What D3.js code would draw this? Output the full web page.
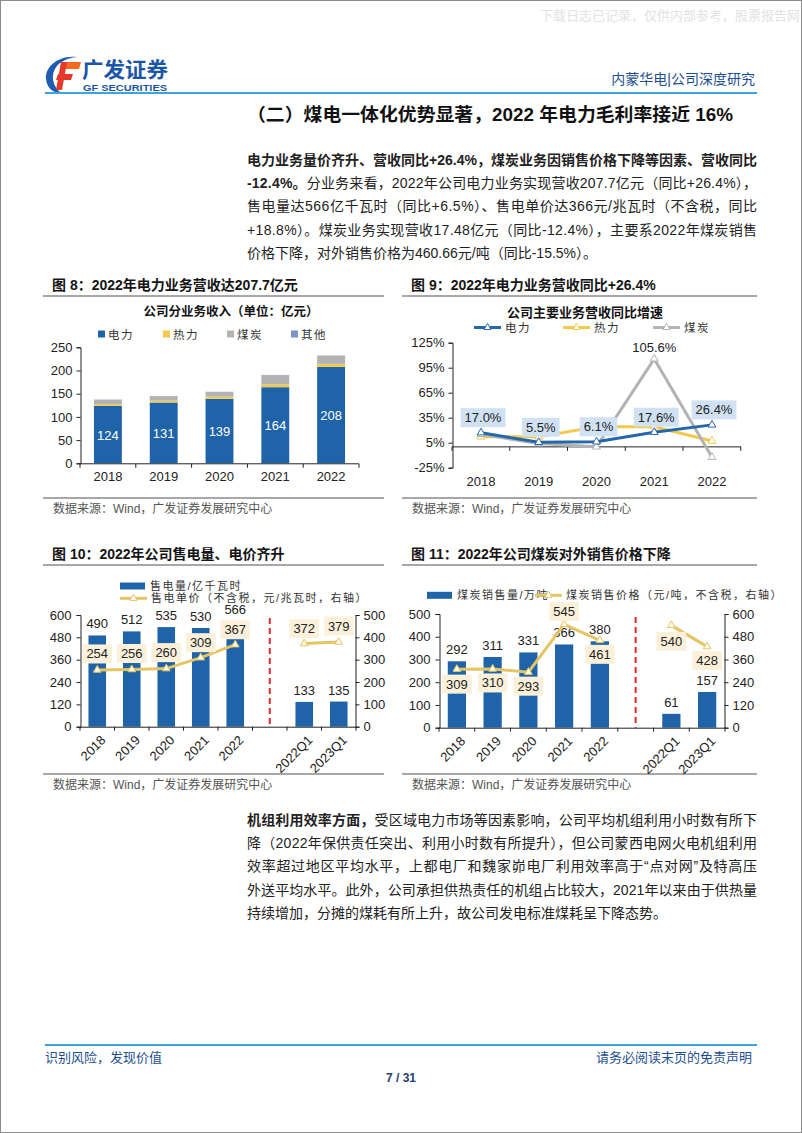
<!DOCTYPE html>
<html>
<head>
<meta charset="utf-8">
<script src="https://cdn.jsdelivr.net/npm/d3@7"></script>
<style>body{margin:0;background:#fff;}</style>
</head>
<body>
<div id="canvas"></div>
<script>
const width = 802;
const height = 1133;
const FONT = "'Liberation Sans','Noto Sans CJK SC',sans-serif";

// ---- data ----
const years = ["2018", "2019", "2020", "2021", "2022"];
const revPower = [124, 131, 139, 164, 207.7];
const revHeat = [3.6, 4.0, 4.9, 6.1, 6.6];
const revCoal = [9.3, 9.7, 9.7, 19.95, 17.48];
const revOther = [0.5, 0.5, 0.5, 0.5, 0.5];
const revTicks = [0, 50, 100, 150, 200, 250];

const yoyPower = [17.0, 5.5, 6.1, 17.6, 26.4];
const yoyHeat = [12, 12, 24, 24, 7];
const yoyCoal = [15, 4, 0, 105.6, -12.4];
const yoyTicks = [-25, 5, 35, 65, 95, 125];

const periods = ["2018", "2019", "2020", "2021", "2022", "", "2022Q1", "2023Q1"];
const elecVolume = [490, 512, 535, 530, 566, null, 133, 135];
const elecPrice = [254, 256, 260, 309, 367, null, 372, 379];
const elecVolTicks = [0, 120, 240, 360, 480, 600];
const elecPriceTicks = [0, 100, 200, 300, 400, 500];

const coalVolume = [292, 311, 331, 366, 380, null, 61, 157];
const coalPrice = [309, 310, 293, 545, 461, null, 540, 428];
const coalVolTicks = [0, 100, 200, 300, 400, 500];
const coalPriceTicks = [0, 120, 240, 360, 480, 600];

// colours
const BLUE = "#1f64a8";
const HEAT = "#f2c94c";
const GRAY = "#b3b3b3";
const OTHER = "#7b94c9";
const GOLD = "#e5c463";
const LABEL_BLUE = "#cfe1f3";
const CREAM = "#fbf1db";
const RED = "#e02a2a";
const NAVY = "#1d4e8f";

const svg = d3.select("#canvas")
    .append("svg")
    .attr("width", width)
    .attr("height", height);

svg.append("rect")
    .attr("x", 0.5).attr("y", 0.5)
    .attr("width", width - 1).attr("height", height - 1)
    .attr("fill", "white")
    .attr("stroke", "#8c8c8c");

function txt(g, x, y, s, o = {}) {
    return g.append("text")
        .attr("x", x).attr("y", y)
        .attr("font-family", FONT)
        .attr("font-size", o.size || 13)
        .attr("font-weight", o.weight || "normal")
        .attr("fill", o.fill || "#222")
        .attr("text-anchor", o.anchor || "start")
        .attr("letter-spacing", o.ls || 0)
        .text(s);
}

// text with a filled box behind it
function boxLabel(g, x, y, s, fill) {
    let box = g.append("rect").attr("fill", fill);
    let t = txt(g, x, y + 4.5, s, {size: 13, anchor: "middle"});
    let w = t.node().getComputedTextLength() + 8;
    box.attr("x", x - w / 2).attr("y", y - 9.5).attr("width", w).attr("height", 19);
}

// ---- page header ----
txt(svg, 800, 20, "下载日志已记录，仅供内部参考，股票报告网", {size: 13, fill: "#e2e2e2", anchor: "end"});

let logo = svg.append("g");
logo.append("path")
    .attr("d", "M77,57 C58,55 45,67 46,79 C47,88 53,93 61,93 C54,87 51,79 54,71 C57,63 66,58 77,57 Z")
    .attr("fill", "#1c5db3");
logo.append("path").attr("d", "M62,62 L81,62 L79,69 L60,69 Z").attr("fill", "#f26a22");
logo.append("path").attr("d", "M58,74 L73,74 L71,80 L56,80 Z").attr("fill", "#e8372a");
logo.append("path").attr("d", "M61,62 L67,62 L62,90 L56,90 Z").attr("fill", "#e63a2a");
txt(logo, 82, 77, "广发证券", {size: 21, weight: "bold", fill: "#1b56a6"})
    .attr("textLength", 86).attr("lengthAdjust", "spacingAndGlyphs");
txt(logo, 83, 90.5, "GF SECURITIES", {size: 9, weight: "bold", fill: "#1b56a6"})
    .attr("textLength", 84).attr("lengthAdjust", "spacingAndGlyphs");

txt(svg, 755, 84, "内蒙华电|公司深度研究", {size: 14, fill: NAVY, anchor: "end"});
svg.append("line")
    .attr("x1", 45).attr("x2", 757).attr("y1", 93).attr("y2", 93)
    .attr("stroke", "#3fa3db").attr("stroke-width", 2);

txt(svg, 247, 121, "（二）煤电一体化优势显著，2022 年电力毛利率接近 16%", {size: 18, weight: "bold", fill: "#111"})
    .attr("textLength", 486).attr("lengthAdjust", "spacingAndGlyphs");

// ---- body paragraphs ----
const para1 = [
    ["电力业务量价齐升、营收同比+26.4%，煤炭业务因销售价格下降等因素、营收同比", "", true],
    ["-12.4%。", "分业务来看，2022年公司电力业务实现营收207.7亿元（同比+26.4%），", true],
    ["", "售电量达566亿千瓦时（同比+6.5%）、售电单价达366元/兆瓦时（不含税，同比", true],
    ["", "+18.8%）。煤炭业务实现营收17.48亿元（同比-12.4%），主要系2022年煤炭销售", true],
    ["", "价格下降，对外销售价格为460.66元/吨（同比-15.5%）。", false]
];
const para2 = [
    ["机组利用效率方面，", "受区域电力市场等因素影响，公司平均机组利用小时数有所下", true],
    ["", "降（2022年保供责任突出、利用小时数有所提升），但公司蒙西电网火电机组利用", true],
    ["", "效率超过地区平均水平，上都电厂和魏家峁电厂利用效率高于“点对网”及特高压", true],
    ["", "外送平均水平。此外，公司承担供热责任的机组占比较大，2021年以来由于供热量", true],
    ["", "持续增加，分摊的煤耗有所上升，故公司发电标准煤耗呈下降态势。", false]
];

function paragraph(lines, y0) {
    lines.forEach((ln, i) => {
        let t = svg.append("text")
            .attr("x", 247).attr("y", y0 + i * 23.2)
            .attr("font-family", FONT).attr("font-size", 14)
            .attr("fill", "#222");
        if (ln[0]) t.append("tspan").attr("font-weight", "bold").text(ln[0]);
        if (ln[1]) t.append("tspan").text(ln[1]);
        if (ln[2]) t.attr("textLength", 510).attr("lengthAdjust", "spacing");
    });
}
paragraph(para1, 165);
paragraph(para2, 825);

// ---- figure frames ----
function frame(x0, x1, yTitle, ySrc, title) {
    txt(svg, x0 + 9, yTitle, title, {size: 14, weight: "bold", fill: "#151515"});
    svg.append("line").attr("x1", x0).attr("x2", x1).attr("y1", yTitle + 6).attr("y2", yTitle + 6)
        .attr("stroke", "#8a8a8a").attr("stroke-width", 1.5);
    svg.append("line").attr("x1", x0).attr("x2", x1).attr("y1", ySrc).attr("y2", ySrc)
        .attr("stroke", "#8a8a8a").attr("stroke-width", 1.5);
    txt(svg, x0 + 10, ySrc + 15, "数据来源：Wind，广发证券发展研究中心", {size: 12, fill: "#555"});
}
frame(43, 384, 290, 498, "图 8：2022年电力业务营收达207.7亿元");
frame(402, 757, 290, 498, "图 9：2022年电力业务营收同比+26.4%");
frame(43, 384, 559, 774, "图 10：2022年公司售电量、电价齐升");
frame(402, 757, 559, 774, "图 11：2022年公司煤炭对外销售价格下降");

function styleAxis(g) {
    g.selectAll("text").attr("font-family", FONT).attr("font-size", 13).attr("fill", "#222");
    g.selectAll("path,line").attr("stroke", "#222");
}

// ---- 图8: stacked bars ----
let g8 = svg.append("g");
let x8 = d3.scaleBand().domain(years).range([80, 359]).paddingInner(0.5).paddingOuter(0.25);
let y8 = d3.scaleLinear().domain([0, 250]).range([463.3, 347.3]);

txt(g8, 231, 316, "公司分业务收入（单位：亿元）", {size: 12.5, weight: "bold", anchor: "middle", fill: "#111"});
const legend8 = [["电力", BLUE, 98], ["热力", HEAT, 163], ["煤炭", GRAY, 227], ["其他", OTHER, 291]];
legend8.forEach(d => {
    g8.append("rect").attr("x", d[2]).attr("y", 330.5).attr("width", 7).attr("height", 7).attr("fill", d[1]);
    txt(g8, d[2] + 10, 338.5, d[0], {size: 11.5, ls: 1.5, fill: "#333"});
});

let revTable = years.map((y, i) => ({year: y, power: revPower[i], heat: revHeat[i], coal: revCoal[i], other: revOther[i]}));
let stack8 = d3.stack().keys(["power", "heat", "coal", "other"])(revTable);
let colors8 = [BLUE, HEAT, GRAY, OTHER];

stack8.forEach((layer, k) => {
    g8.selectAll(null).data(layer).enter().append("rect")
        .attr("x", d => x8(d.data.year))
        .attr("width", x8.bandwidth())
        .attr("y", d => y8(d[1]))
        .attr("height", d => y8(d[0]) - y8(d[1]))
        .attr("fill", colors8[k]);
});
revPower.forEach((v, i) => {
    txt(g8, x8(years[i]) + x8.bandwidth() / 2, y8(v / 2) + 5, d3.format(".0f")(v), {size: 13, fill: "white", anchor: "middle"});
});

let ax8 = g8.append("g").attr("transform", "translate(80.5,0)")
    .call(d3.axisLeft(y8).tickValues(revTicks).tickSize(4).tickPadding(4));
styleAxis(ax8);
g8.append("line").attr("x1", 80).attr("x2", 359).attr("y1", 463.8).attr("y2", 463.8).attr("stroke", "#222");
for (let k = 0; k <= years.length; k++) {
    let bx = 80 + k * x8.step();
    g8.append("line").attr("x1", bx).attr("x2", bx).attr("y1", 463.8).attr("y2", 467.8).attr("stroke", "#222");
}
years.forEach(y => txt(g8, x8(y) + x8.bandwidth() / 2, 481, y, {size: 13, anchor: "middle"}));

// ---- 图9: yoy lines ----
let g9 = svg.append("g");
let x9 = d3.scalePoint().domain(years).range([481, 712]);
let y9 = d3.scaleLinear().domain([-25, 125]).range([467.7, 342.7]);

txt(g9, 585, 317, "公司主要业务营收同比增速", {size: 13, weight: "bold", anchor: "middle", fill: "#111"});
const legend9 = [["电力", "#2467ab", 474], ["热力", HEAT, 563], ["煤炭", GRAY, 653]];
legend9.forEach(d => {
    g9.append("line").attr("x1", d[2]).attr("x2", d[2] + 27).attr("y1", 327.5).attr("y2", 327.5)
        .attr("stroke", d[1]).attr("stroke-width", 3);
    g9.append("path").attr("d", d3.symbol(d3.symbolTriangle, 22)())
        .attr("transform", `translate(${d[2] + 13.5},327.5)`)
        .attr("fill", "white").attr("stroke", d[1]).attr("stroke-width", 1);
    txt(g9, d[2] + 31, 332, d[0], {size: 11.5, ls: 1.5, fill: "#333"});
});

let ax9 = g9.append("g").attr("transform", "translate(452.5,0)")
    .call(d3.axisLeft(y9).tickValues(yoyTicks).tickSize(4).tickPadding(4).tickFormat(d => d + "%"));
styleAxis(ax9);
g9.append("line").attr("x1", 452).attr("x2", 741).attr("y1", y9(0)).attr("y2", y9(0)).attr("stroke", "#222");
for (let k = 0; k <= years.length; k++) {
    let bx = 452 + k * x9.step();
    g9.append("line").attr("x1", bx).attr("x2", bx).attr("y1", y9(0)).attr("y2", y9(0) + 4).attr("stroke", "#222");
}
years.forEach(y => txt(g9, x9(y), 486, y, {size: 13, anchor: "middle"}));

let line9 = d3.line().x((d, i) => x9(years[i])).y(d => y9(d));
const series9 = [[yoyHeat, HEAT], [yoyCoal, GRAY], [yoyPower, "#2467ab"]];
series9.forEach(s => {
    g9.append("path").datum(s[0]).attr("d", line9)
        .attr("fill", "none").attr("stroke", s[1]).attr("stroke-width", 3);
    s[0].forEach((v, i) => {
        g9.append("path").attr("d", d3.symbol(d3.symbolTriangle, 26)())
            .attr("transform", `translate(${x9(years[i])},${y9(v)})`)
            .attr("fill", "white").attr("stroke", s[1]).attr("stroke-width", 1);
    });
});
yoyPower.forEach((v, i) => boxLabel(g9, x9(years[i]) + 2, y9(v) - 15, d3.format(".1f")(v) + "%", LABEL_BLUE));
txt(g9, x9("2021"), y9(yoyCoal[3]) - 7, d3.format(".1f")(yoyCoal[3]) + "%", {size: 13, anchor: "middle"});

// ---- 图10 / 图11: bars + price line on right axis ----
function comboChart(o) {
    let g = svg.append("g");
    let x = d3.scaleBand().domain(periods).range([o.x0, o.x1]).paddingInner(0.49).paddingOuter(0.245);
    let yL = d3.scaleLinear().domain([0, o.volTicks[o.volTicks.length - 1]]).range([o.yBottom, o.yTop]);
    let yR = d3.scaleLinear().domain([0, o.priceTicks[o.priceTicks.length - 1]]).range([o.yBottom, o.yTop]);
    let cx = p => x(p) + x.bandwidth() / 2;

    // legend
    g.append("rect").attr("x", o.leg[0]).attr("y", o.leg[1] - 3.5).attr("width", 25).attr("height", 7).attr("fill", BLUE);
    txt(g, o.leg[0] + 30, o.leg[1] + 4, o.volName, {size: 11, ls: 1.5, fill: "#333"});
    g.append("line").attr("x1", o.leg[2]).attr("x2", o.leg[2] + 27).attr("y1", o.leg[3]).attr("y2", o.leg[3])
        .attr("stroke", GOLD).attr("stroke-width", 3);
    g.append("path").attr("d", d3.symbol(d3.symbolTriangle, 22)())
        .attr("transform", `translate(${o.leg[2] + 13.5},${o.leg[3]})`)
        .attr("fill", "white").attr("stroke", GOLD);
    txt(g, o.leg[2] + 31, o.leg[3] + 4, o.priceName, {size: 11, ls: 1.5, fill: "#333"});

    // bars
    periods.forEach((p, i) => {
        if (o.volume[i] == null) return;
        g.append("rect").attr("x", x(p)).attr("width", x.bandwidth())
            .attr("y", yL(o.volume[i])).attr("height", yL(0) - yL(o.volume[i]))
            .attr("fill", BLUE);
        txt(g, cx(p), yL(o.volume[i]) - 7, o.volume[i], {size: 13, anchor: "middle"});
    });

    // separator between years and quarters
    let sep = cx("");
    g.append("line").attr("x1", sep).attr("x2", sep).attr("y1", o.yTop + 3).attr("y2", o.yBottom)
        .attr("stroke", RED).attr("stroke-width", 2).attr("stroke-dasharray", "6,4");

    // price line
    let line = d3.line().defined(d => d != null).x((d, i) => cx(periods[i])).y(d => yR(d));
    g.append("path").datum(o.price).attr("d", line)
        .attr("fill", "none").attr("stroke", GOLD).attr("stroke-width", 3);
    o.price.forEach((v, i) => {
        if (v == null) return;
        g.append("path").attr("d", d3.symbol(d3.symbolTriangle, 26)())
            .attr("transform", `translate(${cx(periods[i])},${yR(v)})`)
            .attr("fill", "#fffbe8").attr("stroke", GOLD);
    });
    o.price.forEach((v, i) => {
        if (v == null) return;
        boxLabel(g, cx(periods[i]), yR(v) + o.labelDy[i], v, CREAM);
    });

    // axes
    let axL = g.append("g").attr("transform", `translate(${o.x0 + 0.5},0)`)
        .call(d3.axisLeft(yL).tickValues(o.volTicks).tickSize(4).tickPadding(5));
    styleAxis(axL);
    let axR = g.append("g").attr("transform", `translate(${o.x1 - 0.5},0)`)
        .call(d3.axisRight(yR).tickValues(o.priceTicks).tickSize(4).tickPadding(4));
    styleAxis(axR);
    g.append("line").attr("x1", o.x0).attr("x2", o.x1).attr("y1", o.yBottom + 0.5).attr("y2", o.yBottom + 0.5).attr("stroke", "#222");
    for (let k = 0; k <= periods.length; k++) {
        let bx = o.x0 + k * x.step();
        g.append("line").attr("x1", bx).attr("x2", bx).attr("y1", o.yBottom).attr("y2", o.yBottom + 4).attr("stroke", "#222");
    }
    periods.forEach(p => {
        if (!p) return;
        txt(g, 0, 0, p, {size: 13, anchor: "end"})
            .attr("transform", `translate(${cx(p) + 6},${o.yBottom + 11}) rotate(-45)`)
            .attr("dy", "0.35em");
    });
}

comboChart({
    x0: 80, x1: 356, yTop: 615, yBottom: 726.7,
    volume: elecVolume, price: elecPrice,
    volTicks: elecVolTicks, priceTicks: elecPriceTicks,
    labelDy: [-16, -16, -16, -15, -15, 0, -15, -16],
    leg: [120, 586, 120, 598.3],
    volName: "售电量/亿千瓦时",
    priceName: "售电单价（不含税，元/兆瓦时，右轴）"
});

comboChart({
    x0: 439, x1: 725, yTop: 614, yBottom: 727.7,
    volume: coalVolume, price: coalPrice,
    volTicks: coalVolTicks, priceTicks: coalPriceTicks,
    labelDy: [15, 14, 14, -13, 14, 0, 16, 14],
    leg: [427, 595.3, 535, 595.3],
    volName: "煤炭销售量/万吨",
    priceName: "煤炭销售价格（元/吨，不含税，右轴）"
});

// ---- footer ----
svg.append("line")
    .attr("x1", 45).attr("x2", 757).attr("y1", 1045).attr("y2", 1045)
    .attr("stroke", "#3fa3db").attr("stroke-width", 2);
txt(svg, 45, 1062, "识别风险，发现价值", {size: 13, fill: NAVY});
txt(svg, 752, 1062, "请务必阅读末页的免责声明", {size: 13, fill: NAVY, anchor: "end"});
txt(svg, 401, 1082, "7 / 31", {size: 12, weight: "bold", fill: "#1f3d6e", anchor: "middle"});
</script>
</body>
</html>
